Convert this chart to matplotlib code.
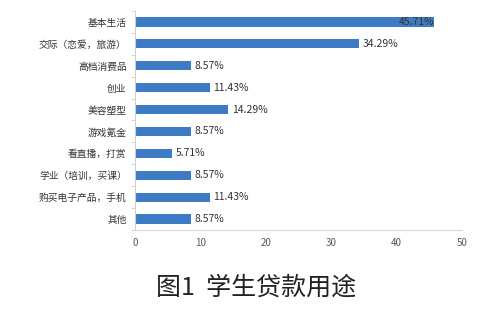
import matplotlib
matplotlib.use("Agg")
import matplotlib.pyplot as plt
from matplotlib.ticker import FixedLocator

plt.rcParams['font.family'] = ['Noto Sans CJK SC', 'DejaVu Sans']

categories = ["基本生活", "交际（恋爱，旅游）", "高档消费品", "创业", "美容塑型",
              "游戏氪金", "看直播，打赏", "学业（培训，买课）", "购买电子产品，手机", "其他"]
values = [45.71, 34.29, 8.57, 11.43, 14.29, 8.57, 5.71, 8.57, 11.43, 8.57]
xticks = [0, 10, 20, 30, 40, 50]
title = "图1  学生贷款用途"

fig = plt.figure(figsize=(5, 3.15), dpi=100)
ax = fig.add_axes([0.27, 0.27, 0.654, 0.695])
n = len(categories)
ypos = list(range(n))
ax.barh(ypos, values, height=0.42, color='#3d7cc4')
ax.set_ylim(n - 0.5, -0.5)
ax.set_xlim(0, 50)
ax.set_xticks(xticks)
ax.set_yticks(ypos)
ax.set_yticklabels(categories, fontsize=7, color='#333333')
ax.tick_params(axis='y', length=0, pad=6)
ax.yaxis.set_minor_locator(FixedLocator([i - 0.5 for i in range(n + 1)]))
ax.tick_params(axis='y', which='minor', length=3, color='#d0d0d0', direction='out')
ax.tick_params(axis='x', length=0, labelsize=7, labelcolor='#595959', pad=6)
for s in ['top', 'right']:
    ax.spines[s].set_visible(False)
ax.spines['left'].set_color('#d0d0d0')
ax.spines['bottom'].set_color('#d9d9d9')

for y, v in zip(ypos, values):
    label = f"{v:.2f}%"
    if v > 40:
        ax.text(v, y, label, ha='right', va='center', fontsize=7.5, color='#333333')
    else:
        ax.text(v + 0.5, y, label, ha='left', va='center', fontsize=7.5, color='#333333')

fig.text(0.512, 0.088, title, ha='center', va='center', fontsize=18,
         color='#222222', fontweight='light')
fig.savefig("out.png", dpi=100)
